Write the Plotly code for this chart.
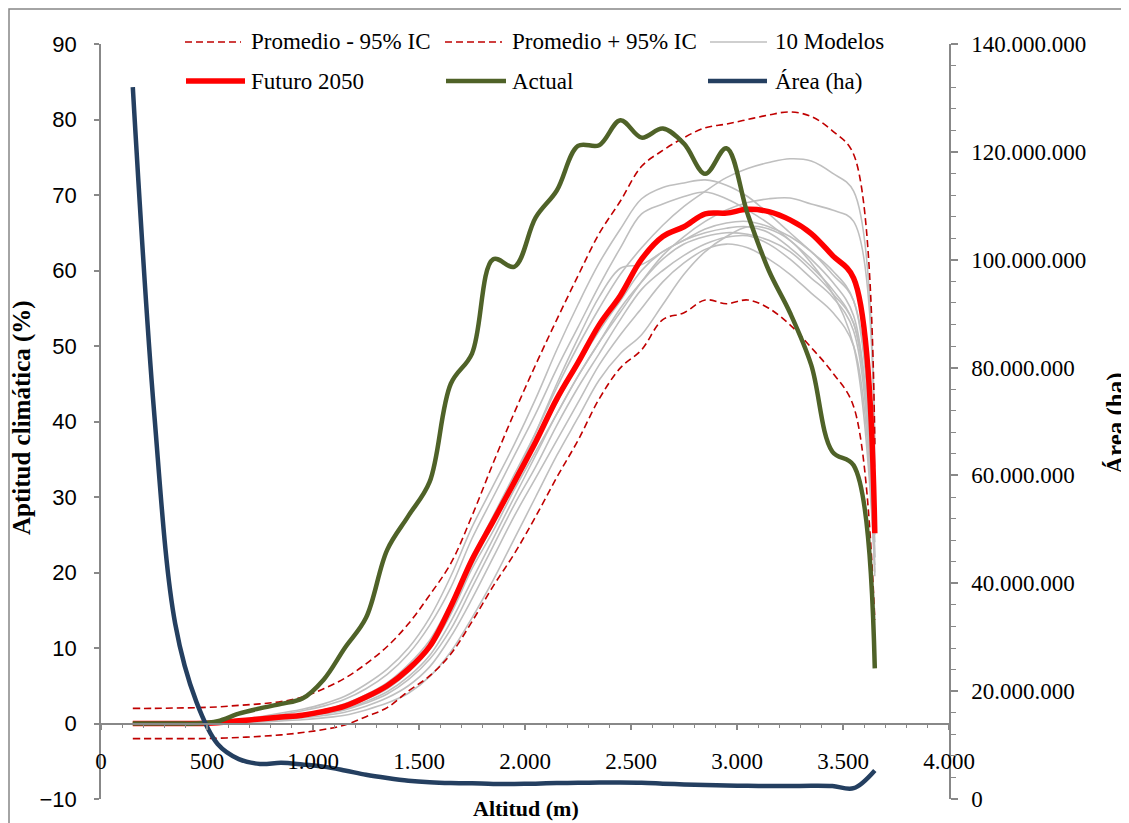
import plotly.graph_objects as go

# ---------------- data ----------------
altitud = [150, 250, 350, 450, 550, 650, 750, 850, 950, 1050, 1150, 1250, 1350, 1450,
           1550, 1650, 1750, 1850, 1950, 2050, 2150, 2250, 2350, 2450, 2550, 2650,
           2750, 2850, 2950, 3050, 3150, 3250, 3350, 3450, 3550, 3650]

actual = [0, 0, 0, 0, 0.3, 1.3, 2.0, 2.6, 3.3, 5.8, 10.0, 14.0, 23.0, 27.5, 32.0, 45.0,
          49.0, 61.5, 60.5, 67.0, 70.6, 76.5, 76.6, 79.9, 77.6, 78.8, 76.8, 72.8, 76.2,
          67.5, 60.0, 54.4, 47.5, 36.0, 34.2, 7.3]

futuro_2050 = [0, 0, 0, 0, 0.1, 0.35, 0.6, 0.85, 1.1, 1.6, 2.3, 3.5, 5.0, 7.2, 10.2,
               15.5, 21.7, 26.8, 32.0, 37.3, 43.0, 47.8, 52.8, 56.7, 61.5, 64.5, 65.8,
               67.5, 67.6, 68.1, 67.8, 66.7, 64.9, 62.0, 59.0, 25.2]

ic_superior = [2.0, 2.0, 2.05, 2.1, 2.2, 2.4, 2.6, 2.9, 3.5, 4.6, 6.0, 7.9, 10.2, 13.2,
               17.0, 21.2, 27.5, 34.5, 41.2, 47.5, 53.5, 59.3, 64.9, 69.2, 73.8, 75.9,
               77.6, 78.9, 79.4, 80.0, 80.6, 81.0, 80.4, 78.5, 75.4, 37.0]

ic_inferior = [-2.0, -2.0, -2.0, -2.0, -1.95, -1.85, -1.7, -1.5, -1.2, -0.8, -0.2, 0.9,
               2.1, 4.3, 6.3, 9.2, 13.5, 18.2, 22.5, 27.4, 32.6, 37.5, 43.0, 47.1, 49.5,
               53.5, 54.4, 56.1, 55.6, 56.1, 55.0, 52.8, 49.8, 46.5, 42.0, 13.7]

modelo_1 = [0, 0, 0, 0.05, 0.2, 0.5, 0.9, 1.4, 1.9, 2.6, 3.6, 5.2, 7.2, 10.0, 14.0, 19.5,
            26.0, 31.5, 37.0, 43.0, 49.5, 55.5, 61.0, 65.5, 69.5, 71.0, 71.6, 72.0, 71.3,
            69.8, 67.5, 65.0, 62.5, 60.0, 56.0, 22.0]
modelo_2 = [0, 0, 0, 0.02, 0.1, 0.3, 0.6, 0.9, 1.3, 1.8, 2.6, 3.8, 5.4, 7.8, 11.0, 16.0,
            22.0, 27.5, 33.0, 38.5, 44.5, 50.0, 55.0, 59.5, 63.0, 66.0, 68.5, 70.5, 72.3,
            73.5, 74.3, 74.8, 74.5, 72.9, 70.5, 37.0]
modelo_3 = [0, 0, 0, 0.03, 0.15, 0.4, 0.8, 1.2, 1.7, 2.3, 3.2, 4.6, 6.5, 9.2, 13.0, 18.0,
            24.5, 30.0, 35.5, 41.0, 47.0, 52.5, 58.0, 63.0, 67.5, 68.8, 69.8, 70.4, 69.5,
            68.0, 66.2, 64.0, 61.5, 58.5, 54.0, 24.0]
modelo_4 = [0, 0, 0, 0.01, 0.08, 0.25, 0.5, 0.8, 1.1, 1.5, 2.1, 3.2, 4.6, 6.8, 9.8, 14.5,
            20.5, 25.5, 31.0, 36.0, 41.0, 46.0, 50.5, 54.5, 58.5, 62.0, 64.5, 66.5, 68.0,
            69.0, 69.5, 69.6, 68.8, 68.0, 66.5, 34.0]
modelo_5 = [0, 0, 0, 0.02, 0.1, 0.35, 0.6, 0.9, 1.2, 1.6, 2.3, 3.6, 5.0, 7.3, 10.5, 15.5,
            21.5, 26.5, 31.5, 37.0, 42.5, 47.5, 52.0, 56.0, 60.0, 62.5, 64.0, 65.5, 66.3,
            66.5, 65.8, 64.5, 62.5, 59.5, 56.0, 25.0]
modelo_6 = [0, 0, 0, 0.02, 0.1, 0.3, 0.55, 0.85, 1.15, 1.55, 2.2, 3.4, 4.8, 7.0, 10.0,
            15.0, 21.0, 26.5, 32.5, 38.5, 45.0, 51.0, 56.5, 60.3, 60.8, 62.5, 64.0, 65.0,
            65.6, 65.8, 65.0, 63.0, 60.5, 57.5, 53.0, 27.0]
modelo_7 = [0, 0, 0, 0.01, 0.06, 0.2, 0.45, 0.7, 1.0, 1.35, 1.9, 2.9, 4.2, 6.2, 9.0, 13.5,
            19.0, 24.5, 30.0, 35.5, 41.0, 46.0, 50.5, 55.0, 58.5, 61.5, 63.5, 64.5, 65.0,
            64.8, 64.0, 62.5, 60.0, 57.0, 53.0, 22.0]
modelo_8 = [0, 0, 0, 0.01, 0.05, 0.18, 0.4, 0.65, 0.9, 1.25, 1.8, 2.7, 3.9, 5.8, 8.5, 12.5,
            18.0, 23.5, 29.0, 34.0, 39.5, 44.5, 49.0, 53.5, 57.5, 60.0, 62.0, 63.5, 64.4,
            64.6, 63.5, 61.5, 59.0, 56.5, 52.0, 20.0]
modelo_9 = [0, 0, 0, 0.01, 0.04, 0.15, 0.3, 0.5, 0.75, 1.05, 1.5, 2.3, 3.4, 5.0, 7.5, 11.5,
            16.5, 22.0, 27.5, 32.5, 37.5, 42.5, 47.5, 51.5, 55.0, 58.5, 61.0, 62.8, 63.5,
            63.0, 61.5, 59.5, 57.0, 54.5, 50.0, 19.5]
modelo_10 = [0, 0, 0, 0, 0.02, 0.1, 0.2, 0.35, 0.5, 0.75, 1.1, 1.8, 2.7, 4.0, 6.2, 9.5,
             14.0, 19.0, 24.5, 30.0, 35.5, 40.5, 45.5, 49.0, 51.5, 55.5, 59.5, 62.5, 64.5,
             65.8, 65.5, 64.0, 61.0, 57.0, 50.0, 21.0]
modelos = [modelo_1, modelo_2, modelo_3, modelo_4, modelo_5,
           modelo_6, modelo_7, modelo_8, modelo_9, modelo_10]

area_ha = [132000000, 72000000, 32500000, 18000000, 10200000, 7400000, 6500000, 6700000,
           6400000, 6000000, 5300000, 4500000, 3900000, 3400000, 3100000, 2950000,
           2900000, 2800000, 2800000, 2850000, 2950000, 3000000, 3050000, 3050000,
           3000000, 2850000, 2700000, 2600000, 2500000, 2450000, 2400000, 2400000,
           2450000, 2400000, 2000000, 5300000]

x_tick_vals = [0, 500, 1000, 1500, 2000, 2500, 3000, 3500, 4000]
x_tick_text = ["0", "500", "1.000", "1.500", "2.000", "2.500", "3.000", "3.500", "4.000"]
y_tick_vals = [-10, 0, 10, 20, 30, 40, 50, 60, 70, 80, 90]
y2_tick_vals = [0, 20000000, 40000000, 60000000, 80000000, 100000000, 120000000, 140000000]
y2_tick_text = ["0", "20.000.000", "40.000.000", "60.000.000", "80.000.000",
                "100.000.000", "120.000.000", "140.000.000"]

# ---------------- styling ----------------
OFF = 8                      # page body margin offset
W, H = 1121, 815
L, R, T, B = 93, 180, 36, 24
PW, PH = W - L - R, H - T - B
AXC = "#888888"
SERIF = "Liberation Serif"
SANS = "Liberation Sans"
C_IC = "#C00000"
C_GRAY = "#BFBFBF"
C_RED = "#FF0000"
C_GREEN = "#4F6228"
C_NAVY = "#243F60"


def pxx(x):
    return (x - OFF - L) / PW


def pxy(y):
    return (T + PH - (y - OFF)) / PH


fig = go.Figure()

for m in modelos:
    fig.add_trace(go.Scatter(x=altitud, y=m, mode="lines", showlegend=False,
                             line=dict(color=C_GRAY, width=1.6, shape="spline")))

fig.add_trace(go.Scatter(x=altitud, y=ic_inferior, mode="lines", showlegend=False,
                         line=dict(color=C_IC, width=1.6, dash="7px,4px", shape="spline")))
fig.add_trace(go.Scatter(x=altitud, y=ic_superior, mode="lines", showlegend=False,
                         line=dict(color=C_IC, width=1.6, dash="7px,4px", shape="spline")))
fig.add_trace(go.Scatter(x=altitud, y=futuro_2050, mode="lines", showlegend=False,
                         line=dict(color=C_RED, width=5.5, shape="spline")))
fig.add_trace(go.Scatter(x=altitud, y=actual, mode="lines", showlegend=False,
                         line=dict(color=C_GREEN, width=4.5, shape="spline")))
fig.add_trace(go.Scatter(x=altitud, y=area_ha, mode="lines", showlegend=False, yaxis="y2",
                         line=dict(color=C_NAVY, width=4.5, shape="spline")))

fig.update_layout(
    width=W, height=H,
    margin=dict(l=L, r=R, t=T, b=B, pad=0),
    paper_bgcolor="white", plot_bgcolor="white",
    showlegend=False,
    xaxis=dict(range=[0, 4000], domain=[0, 1], anchor="free", position=0.1,
               showgrid=False, zeroline=False, showline=True, linecolor=AXC, linewidth=1.5,
               tickmode="array", tickvals=x_tick_vals, ticktext=x_tick_text,
               ticks="outside", ticklen=6, tickwidth=1.5, tickcolor=AXC,
               minor=dict(dtick=100, tick0=0, ticks="outside", ticklen=4, tickwidth=1.2,
                          tickcolor=AXC, showgrid=False),
               tickfont=dict(family=SERIF, size=23, color="black"),
               ticklabelstandoff=11),
    yaxis=dict(range=[-10, 90], domain=[0, 1], anchor="x",
               showgrid=False, zeroline=False, showline=True, linecolor=AXC, linewidth=1.5,
               tickmode="array", tickvals=y_tick_vals,
               ticks="outside", ticklen=5, tickwidth=1.5, tickcolor=AXC,
               tickfont=dict(family=SANS, size=22, color="black"),
               ticklabelstandoff=13),
    yaxis2=dict(range=[0, 140000000], overlaying="y", side="right", anchor="x",
                showgrid=False, zeroline=False, showline=True, linecolor=AXC, linewidth=1.5,
                tickmode="array", tickvals=y2_tick_vals, ticktext=y2_tick_text,
                ticks="outside", ticklen=7, tickwidth=1.5, tickcolor=AXC,
                minor=dict(dtick=4000000, tick0=0, ticks="outside", ticklen=5,
                           tickwidth=1.2, tickcolor=AXC, showgrid=False),
                tickfont=dict(family=SERIF, size=23, color="black"),
                ticklabelstandoff=9),
)

shapes = []
annotations = []

# outer chart border
shapes.append(dict(type="rect", xref="paper", yref="paper",
                   x0=pxx(9), x1=pxx(1140), y0=pxy(835), y1=pxy(9),
                   line=dict(color="#868686", width=1.5), fillcolor="rgba(0,0,0,0)",
                   layer="below"))

# axis titles
annotations.append(dict(text="<b>Altitud (m)</b>", xref="paper", yref="paper",
                        x=pxx(526), y=pxy(808), xanchor="center", yanchor="middle",
                        showarrow=False, font=dict(family=SERIF, size=22, color="black")))
annotations.append(dict(text="<b>Aptitud climática (%)</b>", xref="paper", yref="paper",
                        x=pxx(22), y=pxy(418), xanchor="center", yanchor="middle",
                        textangle=-90, showarrow=False,
                        font=dict(family=SERIF, size=25, color="black")))
annotations.append(dict(text="<b>Área (ha)</b>", xref="paper", yref="paper",
                        x=pxx(1116), y=pxy(423), xanchor="center", yanchor="middle",
                        textangle=-90, showarrow=False,
                        font=dict(family=SERIF, size=25, color="black")))

# manual legend
legend_items = [
    ("Promedio - 95% IC", C_IC, 1.6, "7px,4px", 185, 241, 250, 42),
    ("Promedio + 95% IC", C_IC, 1.6, "7px,4px", 445, 502, 511, 42),
    ("10 Modelos", C_GRAY, 1.6, "solid", 710, 767, 774, 42),
    ("Futuro 2050", C_RED, 5.5, "solid", 186, 245, 250, 81),
    ("Actual", C_GREEN, 4.5, "solid", 446, 506, 511, 81),
    ("Área (ha)", C_NAVY, 4.5, "solid", 708, 767, 774, 81),
]
for name, col, wd, dsh, lx0, lx1, tx, ly in legend_items:
    shapes.append(dict(type="line", xref="paper", yref="paper",
                       x0=pxx(lx0), x1=pxx(lx1), y0=pxy(ly), y1=pxy(ly),
                       line=dict(color=col, width=wd, dash=dsh)))
    annotations.append(dict(text=name, xref="paper", yref="paper",
                            x=pxx(tx), y=pxy(ly), xanchor="left", yanchor="middle",
                            showarrow=False, borderpad=0,
                            font=dict(family=SERIF, size=23, color="black")))

fig.update_layout(shapes=shapes, annotations=annotations)

fig.write_html("out.html")
